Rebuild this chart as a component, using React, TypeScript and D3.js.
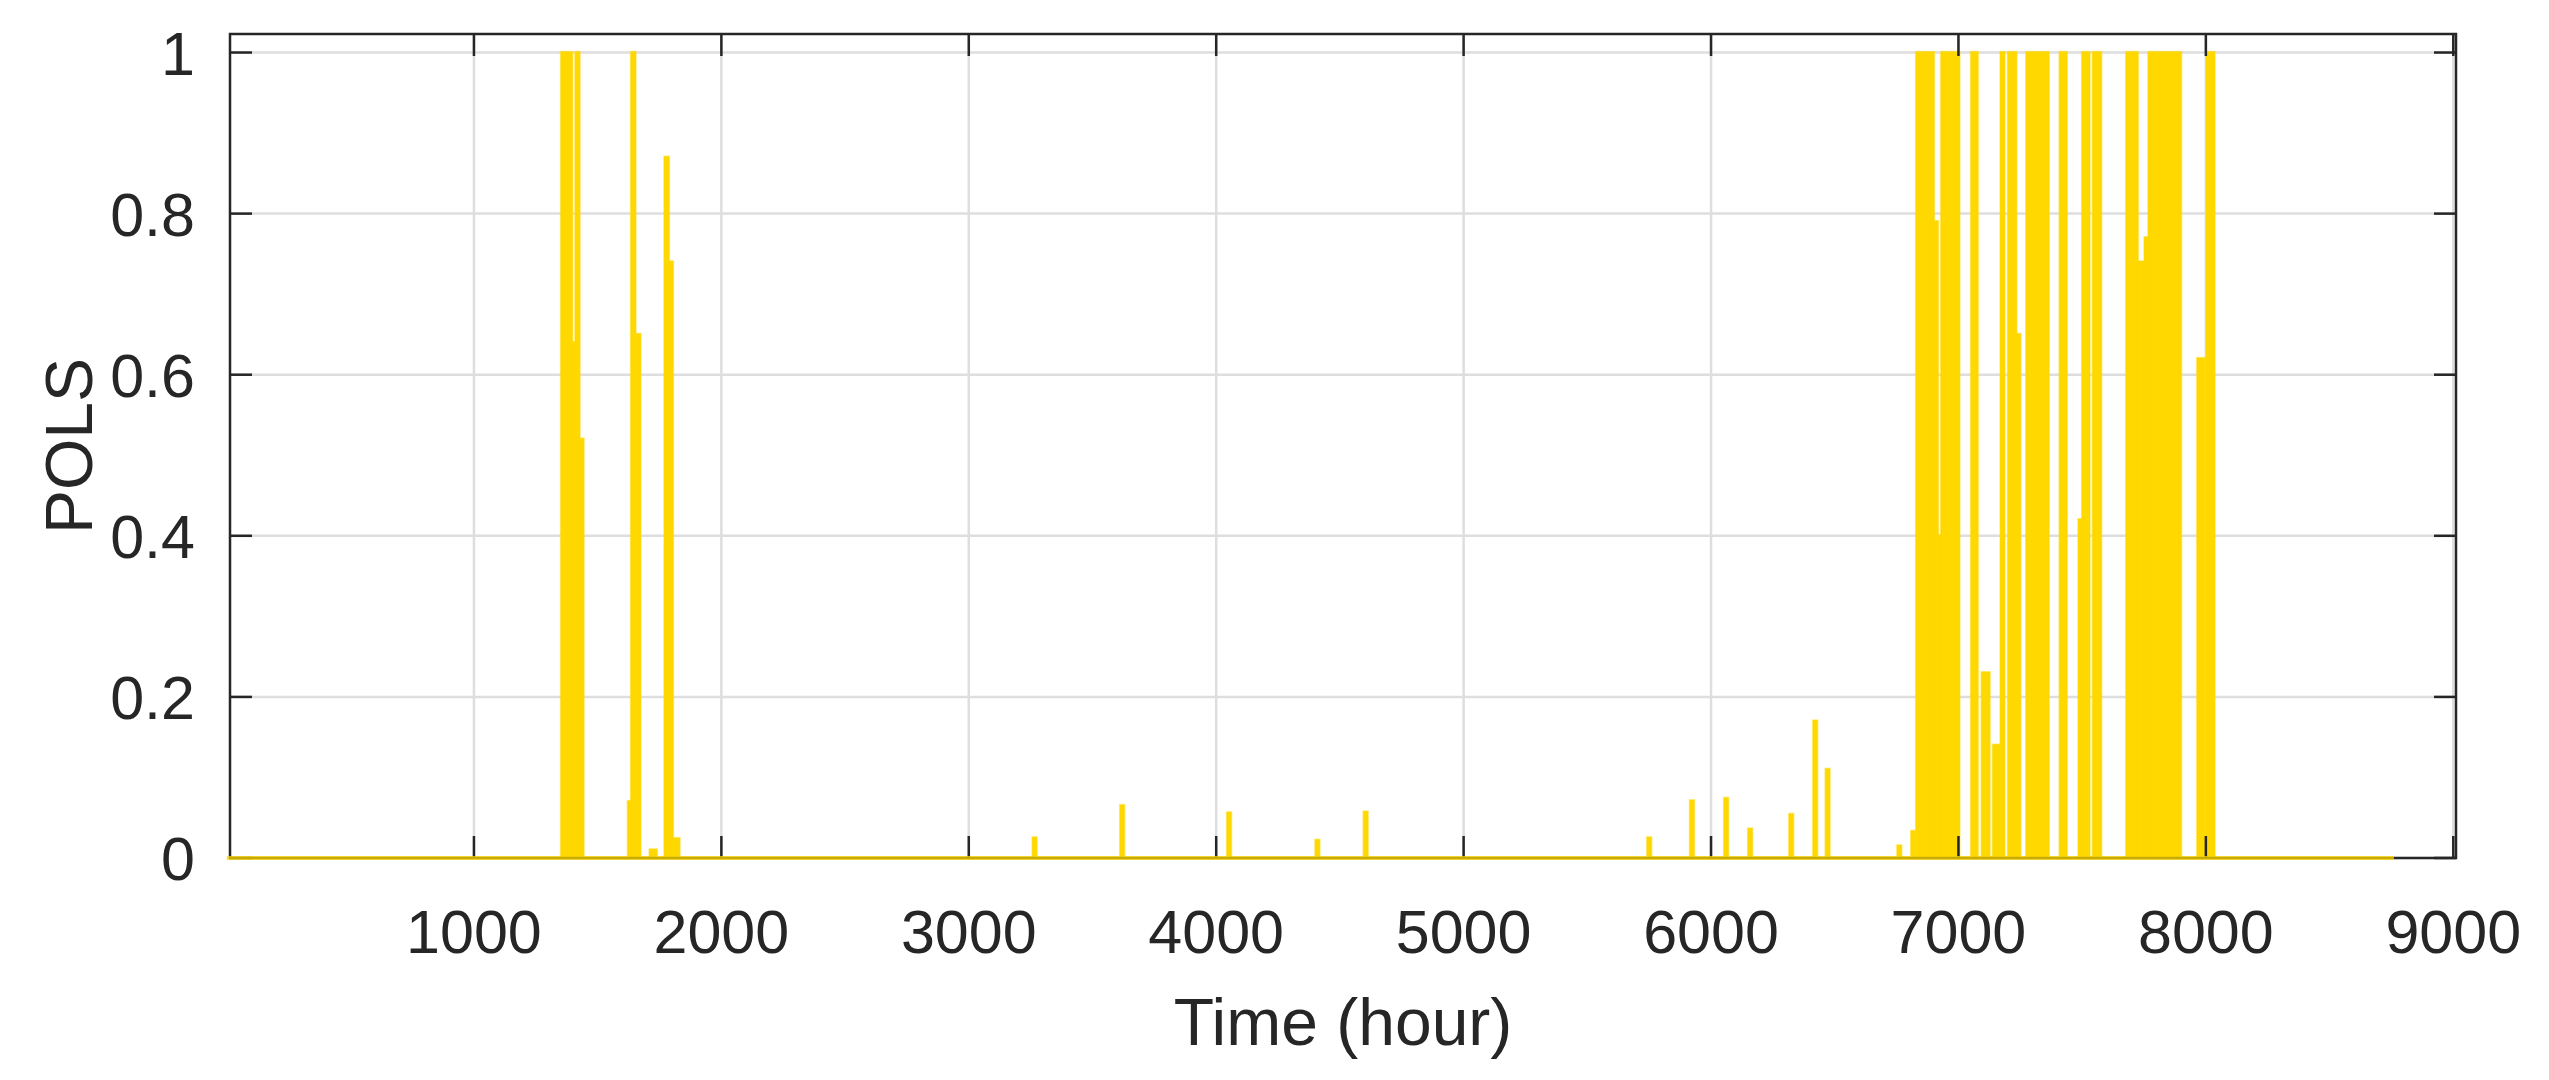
import React from 'react';
import * as d3 from 'd3';

// x-axis ticks (hours) and y-axis ticks (POLS)
const xTickValues = [1000, 2000, 3000, 4000, 5000, 6000, 7000, 8000, 9000];
const yTickValues = [0, 0.2, 0.4, 0.6, 0.8, 1];
const yTickLabels = ['0', '0.2', '0.4', '0.6', '0.8', '1'];

// simulated year: hour 1 .. 8760
const firstHour = 1;
const lastHour = 8760;

// POLS episodes: [start hour, end hour, value]
const polsSpikes: [number, number, number][] = [
  [1354, 1399, 1.0],
  [1399, 1412, 0.64],
  [1412, 1429, 1.0],
  [1429, 1442, 0.52],
  [1624, 1637, 0.07],
  [1637, 1655, 1.0],
  [1655, 1675, 0.65],
  [1712, 1741, 0.01],
  [1772, 1790, 0.87],
  [1790, 1803, 0.74],
  [1803, 1833, 0.024],
  [3260, 3268, 0.025],
  [3614, 3622, 0.065],
  [4046, 4054, 0.056],
  [4403, 4411, 0.022],
  [4598, 4606, 0.057],
  [5744, 5752, 0.025],
  [5917, 5925, 0.071],
  [6055, 6063, 0.074],
  [6152, 6160, 0.036],
  [6318, 6326, 0.054],
  [6415, 6423, 0.17],
  [6465, 6473, 0.11],
  [6755, 6768, 0.015],
  [6811, 6827, 0.033],
  [6831, 6903, 1.0],
  [6903, 6919, 0.79],
  [6919, 6930, 0.4],
  [6932, 7006, 1.0],
  [7053, 7080, 1.0],
  [7096, 7128, 0.23],
  [7141, 7168, 0.14],
  [7172, 7188, 1.0],
  [7202, 7236, 1.0],
  [7236, 7242, 0.65],
  [7276, 7367, 1.0],
  [7411, 7440, 1.0],
  [7487, 7500, 0.42],
  [7502, 7532, 1.0],
  [7545, 7579, 1.0],
  [7680, 7727, 1.0],
  [7727, 7753, 0.74],
  [7754, 7770, 0.77],
  [7770, 7902, 1.0],
  [7967, 7997, 0.62],
  [8004, 8037, 1.0],
];

const xLabel = 'Time (hour)';
const yLabel = 'POLS';

export default function App() {
  const W = 2549;
  const H = 1080;
  const left = 230;
  const right = 2456;
  const top = 34;
  const bottom = 858;

  const x = d3.scaleLinear().domain([14, 9011]).range([left, right]);
  const y = d3.scaleLinear().domain([0, 1.023]).range([bottom, top]);

  const axisColor = '#262626';
  const gridColor = '#dedede';
  const lineColor = '#FFD800';
  const font = "'Liberation Sans', Arial, Helvetica, sans-serif";
  const tickLen = 22;
  const fs = 61;

  const baseline = d3.line<number>()
    .x((d) => x(d))
    .y(() => y(0))([firstHour, lastHour]) as string;

  return (
    <svg width={W} height={H} style={{ position: 'absolute', left: 0, top: 0, background: '#fff' }}>
      <rect x={0} y={0} width={W} height={H} fill="#fff" />
      {/* grid */}
      <g>
        {xTickValues.map((t) => (
          <line key={'gx' + t} x1={x(t)} x2={x(t)} y1={top} y2={bottom} stroke={gridColor} strokeWidth={2.5} />
        ))}
        {yTickValues.map((t) => (
          <line key={'gy' + t} x1={left} x2={right} y1={y(t)} y2={y(t)} stroke={gridColor} strokeWidth={2.5} />
        ))}
      </g>
      {/* data */}
      <g>
        {polsSpikes.map(([s, e, v], i) => {
          const x0 = x(s);
          const w = Math.max(x(e) - x(s), 4);
          return (
            <rect
              key={'s' + i}
              x={x0 - 1}
              y={y(v) - 1}
              width={w + 1}
              height={y(0) - y(v) + 1}
              fill={lineColor}
              stroke={lineColor}
              strokeOpacity={0.45}
              strokeWidth={1.5}
            />
          );
        })}
      </g>
      {/* axes box */}
      <g stroke={axisColor} strokeWidth={2.5} fill="none">
        <rect x={left} y={top} width={right - left} height={bottom - top} />
        {xTickValues.map((t) => (
          <g key={'tx' + t}>
            <line x1={x(t)} x2={x(t)} y1={bottom} y2={bottom - tickLen} />
            <line x1={x(t)} x2={x(t)} y1={top} y2={top + tickLen} />
          </g>
        ))}
        {yTickValues.map((t) => (
          <g key={'ty' + t}>
            <line x1={left} x2={left + tickLen} y1={y(t)} y2={y(t)} />
            <line x1={right} x2={right - tickLen} y1={y(t)} y2={y(t)} />
          </g>
        ))}
      </g>
      {/* zero-level data line */}
      <path d={baseline} stroke={lineColor} strokeWidth={4} strokeOpacity={0.75} fill="none" />
      {/* tick labels */}
      <g fill={axisColor} fontFamily={font} fontSize={fs}>
        {xTickValues.map((t) => (
          <text key={'lx' + t} x={x(t)} y={953} textAnchor="middle">{t}</text>
        ))}
        {yTickValues.map((t, i) => (
          <text key={'ly' + t} x={195} y={y(t) + 22} textAnchor="end">{yTickLabels[i]}</text>
        ))}
      </g>
      <text x={(left + right) / 2} y={1045} textAnchor="middle" fontFamily={font} fontSize={66} fill={axisColor}>{xLabel}</text>
      <text transform={`translate(92, ${(top + bottom) / 2}) rotate(-90)`} textAnchor="middle" fontFamily={font} fontSize={66} fill={axisColor}>{yLabel}</text>
    </svg>
  );
}
